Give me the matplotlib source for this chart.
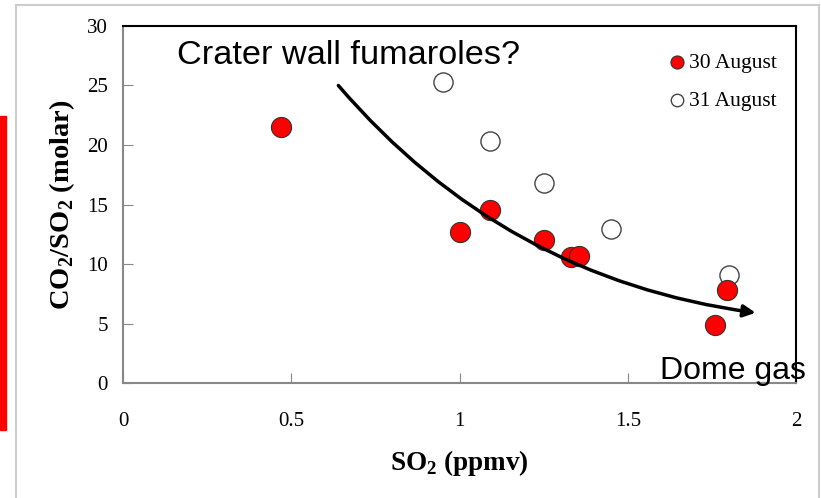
import matplotlib.pyplot as plt
from matplotlib.patches import Rectangle

plt.rcParams['mathtext.fontset'] = 'custom'
plt.rcParams['mathtext.bf'] = 'Liberation Serif:bold'
plt.rcParams['mathtext.rm'] = 'Liberation Serif'

# datos
so2_30 = [0.47, 1.00, 1.09, 1.25, 1.33, 1.355, 1.795, 1.76]
ratio_30 = [21.5, 12.7, 14.5, 12.0, 10.6, 10.7, 7.8, 4.9]
so2_31 = [0.95, 1.09, 1.25, 1.45, 1.80]
ratio_31 = [25.3, 20.3, 16.8, 12.9, 9.1]
xticks = [0, 0.5, 1, 1.5, 2]
yticks = [0, 5, 10, 15, 20, 25, 30]

# flecha de tendencia (inicio, fin)
arrow_start = (0.64, 25.0)
arrow_end = (1.88, 5.9)

fig = plt.figure(figsize=(8.21, 4.98), dpi=100)
ax = fig.add_axes([0.1498, 0.2309, 0.8198, 0.7169])

ax.scatter(so2_30, ratio_30, s=210, color='red', edgecolor='#333333',
           linewidth=0.8, zorder=3, label='30 August')
ax.scatter(so2_31, ratio_31, s=190, color='white', edgecolor='#444444',
           linewidth=1.0, zorder=2, label='31 August')

ax.annotate('', xy=arrow_end, xytext=arrow_start,
            arrowprops=dict(arrowstyle='-|>', color='black', lw=2.5,
                            mutation_scale=18, shrinkA=0, shrinkB=0,
                            connectionstyle='arc3,rad=0.19'), zorder=4)

ax.text(0.16, 27.5, 'Crater wall fumaroles?', fontsize=24.7,
        family='Liberation Sans', va='center')
ax.text(1.595, 1.0, 'Dome gas', fontsize=23, family='Liberation Sans',
        va='center', clip_on=False, zorder=5)

ax.set_xlim(0, 2)
ax.set_ylim(0, 30)
ax.set_xticks(xticks)
ax.set_xticklabels(['0', '0.5', '1', '1.5', '2'])
ax.set_yticks(yticks)
ax.tick_params(direction='in', length=7, color='#888888', labelsize=15,
               labelfontfamily='Liberation Serif')
ax.tick_params(axis='x', pad=21)
ax.tick_params(axis='y', pad=11)
for s in ['left', 'bottom']:
    ax.spines[s].set_color('#888888')
    ax.spines[s].set_linewidth(1.5)
for s in ['top', 'right']:
    ax.spines[s].set_color('black')
    ax.spines[s].set_linewidth(1.5)

ax.set_xlabel('SO$_\\mathregular{2}$ (ppmv)', fontsize=19.5, family='Liberation Serif',
              fontweight='bold', labelpad=12)
ax.set_ylabel('CO$_\\mathregular{2}$/SO$_\\mathregular{2}$ (molar)', fontsize=20.5,
              family='Liberation Serif', fontweight='bold', labelpad=7)

leg = ax.legend(loc='upper right', bbox_to_anchor=(1.0, 0.98), frameon=False,
                prop={'family': 'Liberation Serif', 'size': 15.5},
                handlelength=0.9, handletextpad=0.1, labelspacing=0.85,
                markerscale=0.65)

# marco gris y barra roja de la captura
fig.patches.append(Rectangle((16 / 821, -0.1), 803 / 821, 1.1 - 5 / 498,
                             transform=fig.transFigure, fill=False,
                             edgecolor='#cccccc', lw=1.5))
fig.patches.append(Rectangle((0, 68 / 498), 6 / 821, 314 / 498,
                             transform=fig.transFigure, color='red'))

fig.savefig('out.png', dpi=100)
